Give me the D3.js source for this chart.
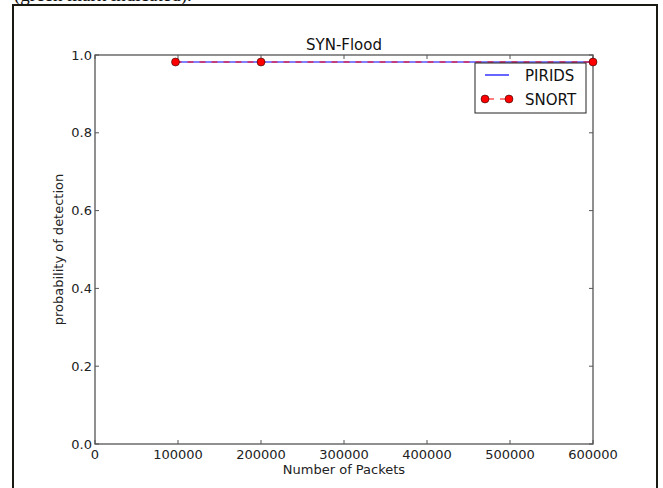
<!DOCTYPE html>
<html><head><meta charset="utf-8">
<script src="https://cdn.jsdelivr.net/npm/d3@7"></script>
<style>body{margin:0;background:#fff;}svg{display:block;}</style>
</head><body>
<script>
const packets = [97000, 200000, 600000];
const pirids = [0.982, 0.982, 0.982];
const snort = [0.982, 0.982, 0.982];
const xTicks = [0, 100000, 200000, 300000, 400000, 500000, 600000];
const yTicks = [0.0, 0.2, 0.4, 0.6, 0.8, 1.0];

const W = 663, H = 488;
const svg = d3.select("body").append("svg").attr("width", W).attr("height", H);
const font = "DejaVu Sans, sans-serif";

// caption fragment and frame
svg.append("text").attr("x", 14).attr("y", 1).attr("font-family", "Liberation Serif, Times New Roman, serif")
  .attr("font-size", 19).attr("fill", "#111").text("(green mark indicated).");
svg.append("rect").attr("x", 13).attr("y", 5).attr("width", 644).attr("height", 500)
  .attr("fill", "none").attr("stroke", "#1a1a12").attr("stroke-width", 2);

const L = 95, R = 593, T = 55, B = 444;
const x = d3.scaleLinear().domain([0, 600000]).range([L, R]);
const y = d3.scaleLinear().domain([0, 1]).range([B, T]);

const g = svg.append("g");
const tk = 4;
xTicks.forEach(v => {
  g.append("line").attr("x1", x(v)).attr("x2", x(v)).attr("y1", B).attr("y2", B - tk).attr("stroke", "#555");
  g.append("line").attr("x1", x(v)).attr("x2", x(v)).attr("y1", T).attr("y2", T + tk).attr("stroke", "#555");
  g.append("text").attr("x", x(v)).attr("y", B + 15).attr("text-anchor", "middle")
    .attr("font-family", font).attr("font-size", 13).attr("fill", "#222").text(d3.format("d")(v));
});
yTicks.forEach(v => {
  g.append("line").attr("x1", L).attr("x2", L + tk).attr("y1", y(v)).attr("y2", y(v)).attr("stroke", "#555");
  g.append("line").attr("x1", R).attr("x2", R - tk).attr("y1", y(v)).attr("y2", y(v)).attr("stroke", "#555");
  g.append("text").attr("x", L - 3).attr("y", y(v) + 4.5).attr("text-anchor", "end")
    .attr("font-family", font).attr("font-size", 13).attr("fill", "#222").text(v.toFixed(1));
});
g.append("rect").attr("x", L).attr("y", T).attr("width", R - L).attr("height", B - T)
  .attr("fill", "none").attr("stroke", "#555").attr("stroke-width", 1.3);

const line = d3.line().x((d, i) => x(packets[i])).y(d => y(d));
g.append("path").datum(pirids).attr("d", line).attr("fill", "none").attr("stroke", "#0000ff").attr("stroke-width", 1.2);
g.append("path").datum(snort).attr("d", line).attr("fill", "none").attr("stroke", "#ff0000")
  .attr("stroke-width", 1.2).attr("stroke-dasharray", "6,6");
g.selectAll("circle.s").data(snort).enter().append("circle")
  .attr("cx", (d, i) => x(packets[i])).attr("cy", d => y(d)).attr("r", 4)
  .attr("fill", "#ff0000").attr("stroke", "#000").attr("stroke-width", 0.5);

// title and labels
svg.append("text").attr("x", (L + R) / 2).attr("y", 50).attr("text-anchor", "middle")
  .attr("font-family", font).attr("font-size", 15).attr("fill", "#111").text("SYN-Flood");
svg.append("text").attr("x", (L + R) / 2).attr("y", 474).attr("text-anchor", "middle")
  .attr("font-family", font).attr("font-size", 13).attr("fill", "#222").text("Number of Packets");
svg.append("text").attr("transform", `translate(63,${(T + B) / 2}) rotate(-90)`).attr("text-anchor", "middle")
  .attr("font-family", font).attr("font-size", 13).attr("fill", "#222").text("probability of detection");

// legend
const lg = svg.append("g");
lg.append("rect").attr("x", 475).attr("y", 63).attr("width", 111).attr("height", 50)
  .attr("fill", "#fff").attr("stroke", "#222").attr("stroke-width", 1);
lg.append("line").attr("x1", 485).attr("x2", 509).attr("y1", 75).attr("y2", 75).attr("stroke", "#0000ff").attr("stroke-width", 1.2);
lg.append("text").attr("x", 525).attr("y", 80.5).attr("font-family", font).attr("font-size", 15).attr("fill", "#111").text("PIRIDS");
lg.append("line").attr("x1", 485).attr("x2", 509).attr("y1", 99).attr("y2", 99).attr("stroke", "#ff0000")
  .attr("stroke-width", 1.2).attr("stroke-dasharray", "6,6").attr("stroke-dashoffset", -3);
[485, 509].forEach(cx => lg.append("circle").attr("cx", cx).attr("cy", 99).attr("r", 4)
  .attr("fill", "#ff0000").attr("stroke", "#000").attr("stroke-width", 0.5));
lg.append("text").attr("x", 525).attr("y", 104.5).attr("font-family", font).attr("font-size", 15).attr("fill", "#111").text("SNORT");
</script>
</body></html>
